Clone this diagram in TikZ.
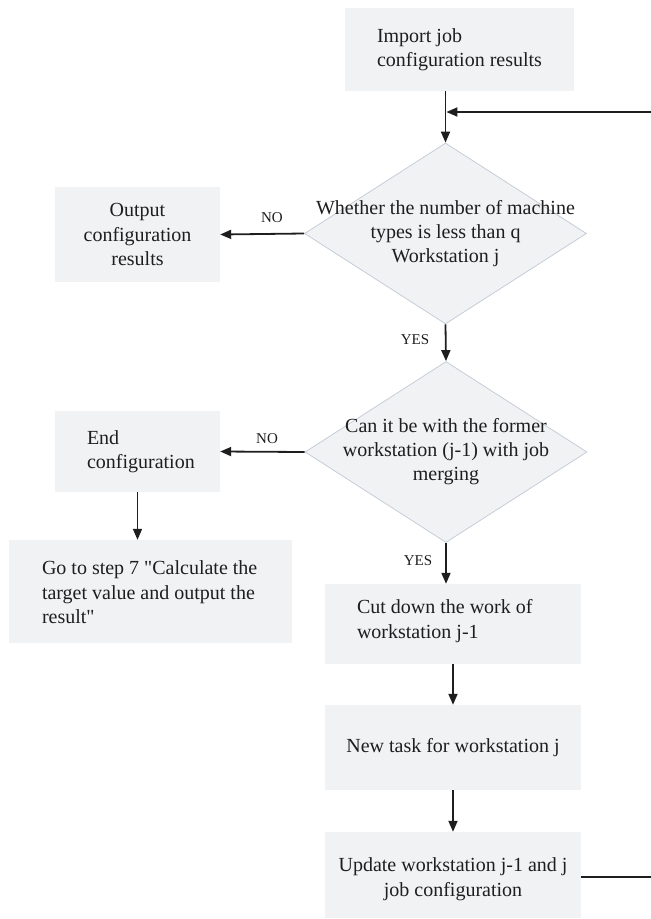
\documentclass[tikz,border=0pt]{standalone}
\usepackage{fontspec}
\setmainfont{Liberation Serif}[Ligatures=TeXOff]
\usetikzlibrary{shapes.geometric,arrows.meta}
\definecolor{boxfill}{HTML}{F1F2F4}
\definecolor{diaedge}{HTML}{C6CDD7}
\definecolor{ink}{HTML}{1E1E1E}
\tikzset{
  panel/.style={rectangle, fill=boxfill, draw=none, inner sep=0pt},
  stepbox/.style={panel, align=center, font=\fontsize{20}{24.5}\selectfont, text=ink},
  boxtext/.style={anchor=west, inner sep=0pt, align=left,
    font=\fontsize{20}{24.5}\selectfont, text=ink},
  decision/.style={diamond, fill=boxfill, draw=diaedge, line width=0.8pt,
    inner sep=0pt, minimum width=282pt, minimum height=181pt},
  dtext/.style={align=center, inner sep=0pt, font=\fontsize{20}{24}\selectfont, text=ink},
  flow/.style={draw=ink, line width=1.8pt, -{Triangle[length=11pt,width=9pt]}},
  tag/.style={font=\fontsize{15}{18}\selectfont, text=ink, inner sep=0pt}
}
\begin{document}
\begin{tikzpicture}[x=1pt, y=-1pt]
\useasboundingbox (0,0) rectangle (651,919);
\begin{scope}
\clip (0,0) rectangle (651,919);

% process boxes with left-set text
\node[panel, minimum width=229pt, minimum height=83pt] (imp) at (459.5,49.5) {};
\node[boxtext] (impt) at ([xshift=32pt]imp.west)
  {Import job\\configuration results};
\node[panel, minimum width=165pt, minimum height=81pt] (endc) at (137.5,451.5) {};
\node[boxtext] (endct) at ([xshift=32pt]endc.west)
  {End\\configuration};
\node[panel, minimum width=283pt, minimum height=103pt] (goto) at (150.5,591.5) {};
\node[boxtext] (gotot) at ([xshift=33pt,yshift=-1pt]goto.west)
  {Go to step 7 "Calculate the\\target value and output the\\result"};
\node[panel, minimum width=256pt, minimum height=80pt] (cut) at (453,624) {};
\node[boxtext] (cutt) at ([xshift=32pt,yshift=3pt]cut.west)
  {Cut down the work of\\workstation j-1};

% process boxes with centred text
\node[stepbox, minimum width=165pt, minimum height=95pt] (out) at (137.5,234.5)
  {Output\\configuration\\results};
\node[stepbox, minimum width=256pt, minimum height=85pt] (newt) at (453,747.5)
  {New task for workstation j};
\node[panel, minimum width=256pt, minimum height=86pt] (upd) at (453,875) {};
\node[dtext, font=\fontsize{20}{24.5}\selectfont] (updt) at ([yshift=-4pt]upd.center)
  {Update workstation j-1 and j\\job configuration};

% decisions
\node[decision] (d1) at (445.5,233.5) {};
\node[dtext] (d1t) at (d1.center)
  {Whether the number of machine\\types is less than q\\Workstation j};
\node[decision] (d2) at (446,452) {};
\node[dtext] (d2t) at (d2.center)
  {Can it be with the former\\workstation (j-1) with job\\merging};

% connectors
\coordinate (join) at (445.5,112);
\coordinate (loopdown) at (662,877);
\coordinate (loopup) at (662,112);
\draw[flow] (imp.south -| join) -- (d1.north);
\draw[flow] (upd.east |- loopdown) -- (loopdown) -- (loopup) -- ([xshift=0.9pt]join);
\draw[flow] (d1.west) -- (out.east);
\draw[flow] (d1.south) -- (d2.north);
\draw[flow] (d2.west) -- (endc.east);
\draw[flow] (endc.south) -- (goto.north -| endc.south);
\draw[flow] (d2.south) -- (d2.south |- cut.north);
\draw[flow] (cut.south) -- (newt.north);
\draw[flow] (newt.south) -- (upd.north);

% branch labels
\node[tag] (no1) at (272,218) {NO};
\node[tag] (yes1) at (415,340) {YES};
\node[tag] (no2) at (267,439) {NO};
\node[tag] (yes2) at (418,561) {YES};
\end{scope}
\end{tikzpicture}
\end{document}
